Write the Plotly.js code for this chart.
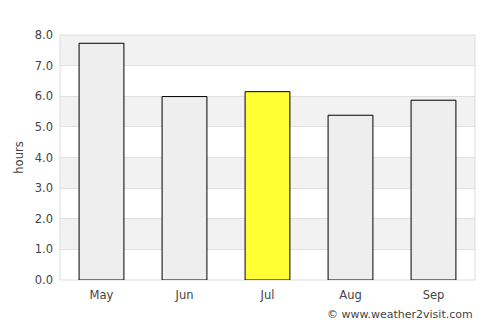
<!DOCTYPE html>
<html>
<head>
<meta charset="utf-8">
<script src="https://cdn.plot.ly/plotly-3.0.1.min.js"></script>
<style>html,body{margin:0;padding:0;background:#fff;}#chart{width:500px;height:325px;}</style>
</head>
<body>
<div id="chart"></div>
<script>
const months = ["May", "Jun", "Jul", "Aug", "Sep"];
const hours = [7.73, 5.99, 6.15, 5.38, 5.87];
const barColors = ["#eeeeee", "#eeeeee", "#ffff33", "#eeeeee", "#eeeeee"];
const yTicks = [0, 1, 2, 3, 4, 5, 6, 7, 8];
const shadedBands = [[1, 2], [3, 4], [5, 6], [7, 8]];

const shapes = shadedBands.map(b => ({
  type: "rect", xref: "paper", yref: "y", x0: 0, x1: 1, y0: b[0], y1: b[1],
  fillcolor: "#f2f2f2", line: {width: 0}, layer: "below"
}));
shapes.push({type: "rect", xref: "paper", yref: "paper", x0: 0, x1: 1, y0: 0, y1: 1,
  line: {color: "#dddddd", width: 1}, fillcolor: "rgba(0,0,0,0)", layer: "below"});

Plotly.newPlot("chart", [{
  type: "bar", x: months, y: hours,
  marker: {color: barColors, line: {color: "#000000", width: 1}},
  width: 0.54, hoverinfo: "none"
}], {
  width: 500, height: 325,
  margin: {l: 60, r: 25, t: 35, b: 45},
  paper_bgcolor: "#ffffff", plot_bgcolor: "#ffffff",
  font: {family: "DejaVu Sans, sans-serif", size: 11.5, color: "#444444"},
  showlegend: false,
  xaxis: {showgrid: false, zeroline: false, showline: false, ticks: "", tickfont: {size: 11.5, color: "#444"}, ticklabelstandoff: 6},
  yaxis: {range: [0, 8], tickvals: yTicks, ticktext: yTicks.map(v => v.toFixed(1)),
    showgrid: true, gridcolor: "#e0e0e0", gridwidth: 1, zeroline: false, showline: false,
    ticks: "", ticklabelstandoff: 6, tickfont: {size: 11.5, color: "#444"},
    title: {text: "hours", font: {size: 11.5, color: "#444"}, standoff: 8}},
  shapes: shapes,
  annotations: [{xref: "paper", yref: "paper", x: 1.0, y: -0.108, xanchor: "right", yanchor: "top",
    text: "© www.weather2visit.com", showarrow: false, font: {size: 11, color: "#444"}}]
}, {displayModeBar: false, staticPlot: true});
</script>
</body>
</html>
